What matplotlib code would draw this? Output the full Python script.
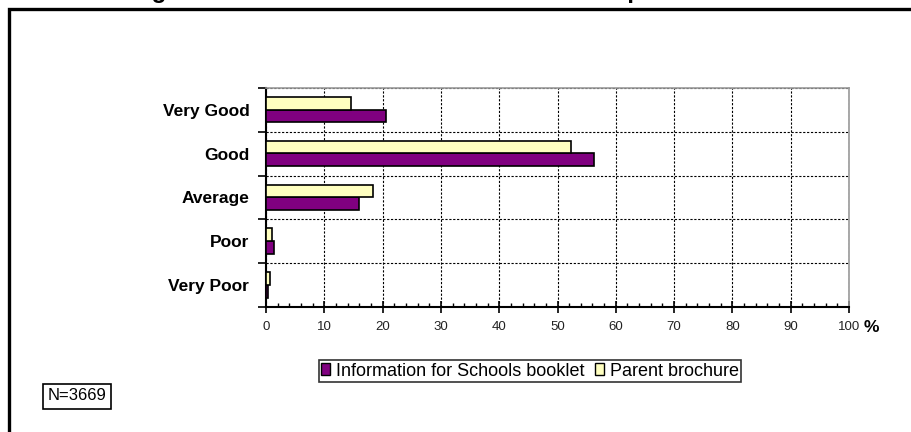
import matplotlib.pyplot as plt
from matplotlib.patches import Rectangle, Patch
from matplotlib.ticker import MultipleLocator
import numpy as np

plt.rcParams['font.family'] = ['Liberation Sans', 'DejaVu Sans']

categories = ["Very Good", "Good", "Average", "Poor", "Very Poor"]
booklet = [20.5, 56.2, 16.0, 1.4, 0.3]    # Information for Schools booklet
brochure = [14.6, 52.4, 18.4, 1.0, 0.7]   # Parent brochure
x_ticks = [0, 10, 20, 30, 40, 50, 60, 70, 80, 90, 100]

W, H = 911, 432
fig = plt.figure(figsize=(W / 100, H / 100), dpi=100)

# outer chart frame, runs off the right and bottom edges
fig.patches.append(Rectangle((9 / W, -0.1), 1.2, (H - 9) / H + 0.1,
                             transform=fig.transFigure, fill=False,
                             edgecolor='black', linewidth=2.4, zorder=0))

# title, clipped by the top of the image
fig.text(0.497, 1.0 + 9 / H, "Rating of Information for Schools booklet and parent brochure",
         ha='center', va='center', fontsize=17.5, fontweight='bold')

ax = fig.add_axes([266 / W, 1 - 307 / H, (849 - 266) / W, (307 - 88) / H])

n = len(categories)
ypos = np.arange(n)
h = 0.29
ax.barh(ypos + h / 2 - 0.005, booklet, height=h, color='#800080',
        edgecolor='black', linewidth=1.2, zorder=3)
ax.barh(ypos - h / 2 - 0.005, brochure, height=h, color='#FFFFC0',
        edgecolor='black', linewidth=1.2, zorder=3)

ax.set_xlim(0, 100)
ax.set_ylim(n - 0.5, -0.5)
ax.set_xticks(x_ticks)
ax.set_xticklabels([str(t) for t in x_ticks], fontsize=9.5, color='#222222')
ax.xaxis.set_minor_locator(MultipleLocator(2))
ax.tick_params(axis='x', which='major', direction='inout', length=8, width=1.2, pad=6)
ax.tick_params(axis='x', which='minor', direction='in', length=3, width=1)

# category labels sit between the boundary ticks
ax.set_yticks(np.arange(n + 1) - 0.5)
ax.set_yticklabels([])
ax.set_yticks(ypos, minor=True)
ax.set_yticklabels(categories, minor=True, fontsize=12.5, fontweight='bold')
ax.tick_params(axis='y', which='major', direction='out', length=6, width=1.2)
ax.tick_params(axis='y', which='minor', length=0, pad=12)

ax.grid(True, which='major', axis='both', color='black', linestyle=(0, (2, 1.5)),
        linewidth=0.8, zorder=1)

for side in ('top', 'right'):
    ax.spines[side].set_color('#999999')
    ax.spines[side].set_linewidth(1.2)
for side in ('left', 'bottom'):
    ax.spines[side].set_linewidth(1.5)

fig.text(864 / W, 1 - 327 / H, "%", ha='left', va='center',
         fontsize=12.5, fontweight='bold')

handles = [Patch(facecolor='#800080', edgecolor='black', label='Information for Schools booklet'),
           Patch(facecolor='#FFFFC0', edgecolor='black', label='Parent brochure')]
leg = fig.legend(handles=handles, loc='center', ncol=2,
                 bbox_to_anchor=(530 / W, 1 - 371 / H), fontsize=13,
                 frameon=True, fancybox=False, handlelength=0.5, handleheight=0.6,
                 handletextpad=0.3, columnspacing=0.6, borderpad=0.12,
                 borderaxespad=0)
leg.get_frame().set_edgecolor('black')
leg.get_frame().set_linewidth(1.2)

fig.text(77 / W, 1 - 396 / H, "N=3669", ha='center', va='center', fontsize=12,
         bbox=dict(boxstyle='square,pad=0.3', facecolor='white',
                   edgecolor='black', linewidth=1.2))

fig.savefig('out.png', dpi=100)
